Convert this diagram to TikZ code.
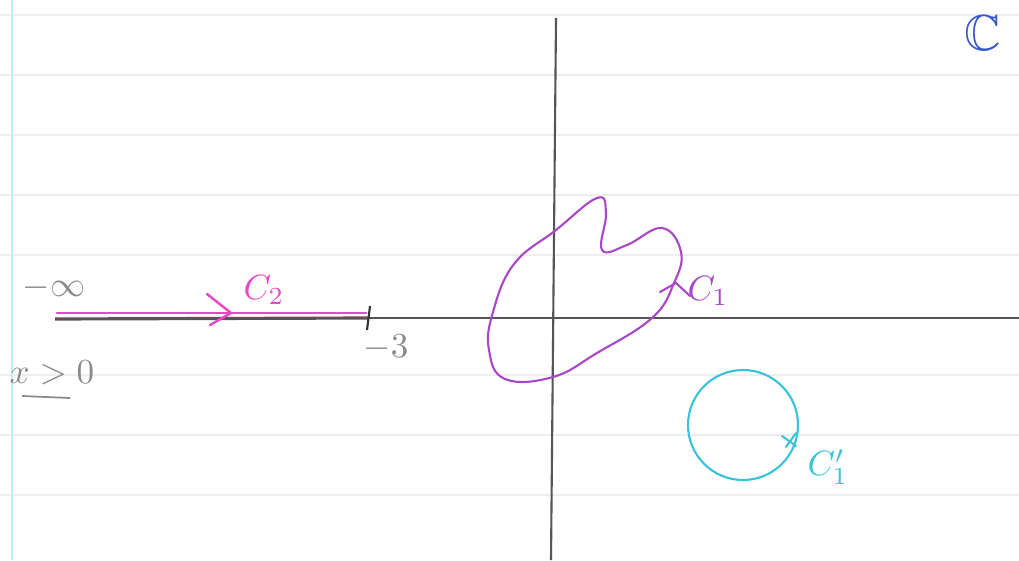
\documentclass[tikz,border=0pt]{standalone}
\usepackage{amssymb}
\usetikzlibrary{arrows.meta}
\definecolor{pinkc}{HTML}{E848C8}
\definecolor{purplec}{HTML}{A848C8}
\definecolor{cyanc}{HTML}{38C4D8}
\definecolor{bluec}{HTML}{3858C8}
\definecolor{axisc}{HTML}{555555}
\definecolor{graytext}{HTML}{8A8A8A}
\definecolor{rulec}{HTML}{EEEEEE}
\definecolor{marginc}{HTML}{BFEFEF}
\tikzset{
  axis/.style={draw=axisc, line width=0.6pt},
  ruled/.style={draw=rulec, line width=0.4pt},
  pinkline/.style={draw=pinkc, line width=0.7pt, line cap=round},
  purpleline/.style={draw=purplec, line width=0.6pt, line cap=round},
  cyanline/.style={draw=cyanc, line width=0.6pt, line cap=round},
  lab/.style={inner sep=1pt, font=\normalsize},
}
\begin{document}
\begin{tikzpicture}[x=0.1mm,y=-0.1mm]
\useasboundingbox (0,0) rectangle (1019,560);
\fill[white] (0,0) rectangle (1019,560);
% ruled paper
\foreach \yy in {15,75,135,195,255,375,435,495}
  \draw[ruled] (0,\yy) -- (1019,\yy);
\draw[draw=marginc, line width=0.6pt] (12,0) -- (12,560);
% axes
\coordinate (vtop) at (556,18);
\coordinate (vbot) at (551,560);
\draw[axis] (vtop) -- (vbot);
\coordinate (hl) at (368,318);
\coordinate (hr) at (1019,318);
\draw[axis, line width=0.4pt] (hl) -- (hr);
\coordinate (cl) at (55,319);
\draw[axis, line width=0.9pt] (cl) -- (hl);
% tick at -3
\coordinate (tt) at (370,306);
\coordinate (tb) at (367,330);
\draw[draw=black!80, line width=0.6pt] (tt) -- (tb);
% C2 contour
\coordinate (p1) at (57,313);
\coordinate (p2) at (366,313);
\draw[pinkline] (p1) -- (p2);
\coordinate (ah) at (231,313);
\draw[pinkline] (207,294) -- (ah) -- (210,325);
% labels left
\node[lab, text=graytext] (minf) at (54,288) {$-\infty$};
\node[lab, text=pinkc] (c2) at (264,290) {$C_2$};
\node[lab, text=graytext] (m3) at (386,348) {$-3$};
\node[lab, text=graytext] (xg) at (52,373) {$x>0$};
\draw[draw=graytext, line width=0.5pt] (22,396) -- (70,398);
% C1 contour
\draw[purpleline] plot[smooth cycle, tension=0.7] coordinates {
  (556,230) (597,198) (606,213) (602,250) (627,245) (662,228) (681,252)
  (674,283) (652,318) (597,353) (553,377) (505,379) (489,350) (493,312)
  (514,264)};
\coordinate (c1a) at (676,283);
\draw[purpleline] (660,292) -- (c1a) -- (690,296);
\node[lab, text=purplec] (c1) at (708,291) {$C_1$};
% C1' circle
\coordinate (cc) at (743,425);
\draw[cyanline] (cc) circle[x radius=55, y radius=-55];
\draw[cyanline] (782,436) -- (796,446);
\draw[cyanline] (786,447) -- (796,433);
\node[lab, text=cyanc] (c1p) at (828,467) {$C_1'$};
% plane label
\node[lab, text=bluec, font=\Large] (cplane) at (983,33) {$\mathbb{C}$};
\end{tikzpicture}
\end{document}
